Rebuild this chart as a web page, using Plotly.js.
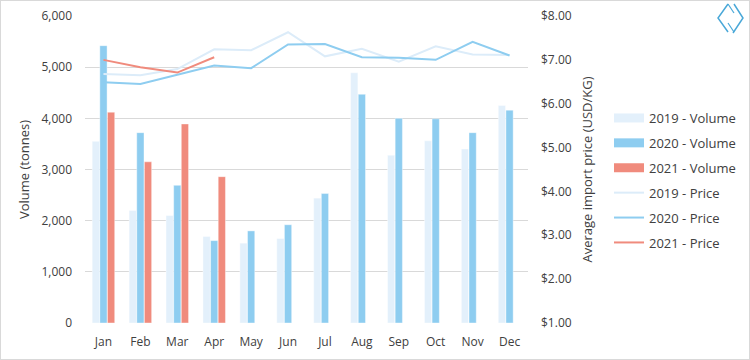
<!DOCTYPE html>
<html>
<head>
<meta charset="utf-8">
<script src="https://cdn.plot.ly/plotly-3.0.1.min.js"></script>
<style>
  html, body { margin: 0; padding: 0; background: #fff; }
  #chart { width: 748px; height: 358px; border: 1px solid #d9d9d9; }
</style>
</head>
<body>
<div id="chart"></div>
<script>
const months = ['Jan','Feb','Mar','Apr','May','Jun','Jul','Aug','Sep','Oct','Nov','Dec'];

const volume2019 = [3550, 2200, 2100, 1690, 1560, 1650, 2440, 4890, 3280, 3560, 3400, 4250];
const volume2020 = [5420, 3720, 2690, 1610, 1800, 1920, 2530, 4470, 4000, 3990, 3720, 4160];
const volume2021 = [4120, 3150, 3890, 2860, null, null, null, null, null, null, null, null];

const price2019 = [6.68, 6.65, 6.79, 7.24, 7.22, 7.63, 7.08, 7.25, 6.96, 7.31, 7.12, 7.11];
const price2020 = [6.49, 6.45, 6.66, 6.87, 6.81, 7.35, 7.36, 7.06, 7.05, 7.00, 7.41, 7.10];
const price2021 = [7.00, 6.83, 6.71, 7.06, null, null, null, null, null, null, null, null];

const c2019bar = '#e3f0fb';
const c2020 = '#8ecdf0';
const c2021 = '#f08b7d';
const c2019line = '#dcecf9';

const txt = '#404040';
const fontFam = '"Open Sans", "Liberation Sans", sans-serif';

function barTrace(name, y, color) {
  return {
    type: 'bar', name: name, x: months, y: y, yaxis: 'y',
    marker: { color: color, line: { color: 'rgba(255,255,255,0.5)', width: 0.8 } },
    showlegend: false, hoverinfo: 'skip'
  };
}
function lineTrace(name, y, color, w) {
  return {
    type: 'scatter', mode: 'lines', name: name, x: months, y: y, yaxis: 'y2',
    line: { color: color, width: w }, showlegend: false, connectgaps: false
  };
}
function legendTrace(name, color, w, grp) {
  return {
    type: 'scatter', mode: 'lines', name: name, x: [months[0]], y: [null], yaxis: 'y2',
    line: { color: color, width: w }, showlegend: true, legendgroup: grp, hoverinfo: 'skip'
  };
}

const data = [
  barTrace('2019 - Volume', volume2019, c2019bar),
  barTrace('2020 - Volume', volume2020, c2020),
  barTrace('2021 - Volume', volume2021, c2021),
  lineTrace('2019 - Price', price2019, c2019line, 2),
  lineTrace('2020 - Price', price2020, c2020, 2),
  lineTrace('2021 - Price', price2021, c2021, 2),
  legendTrace('2019 - Volume', c2019bar, 9, 'a'),
  legendTrace('2020 - Volume', c2020, 9, 'b'),
  legendTrace('2021 - Volume', c2021, 9, 'c'),
  legendTrace('2019 - Price', c2019line, 2, 'd'),
  legendTrace('2020 - Price', c2020, 2, 'e'),
  legendTrace('2021 - Price', c2021, 2, 'f')
];

const W = 748, H = 358;
const M = { l: 84, r: 221, t: 15, b: 36 };
const PW = W - M.l - M.r, PH = H - M.t - M.b;
function px(x) { return (x - 1 - M.l) / PW; }
function py(y) { return 1 - (y - 1 - M.t) / PH; }
function logoPath(pts) {
  return pts.map((p, i) => (i ? 'L ' : 'M ') + px(p[0]).toFixed(4) + ',' + py(p[1]).toFixed(4)).join(' ');
}

const layout = {
  width: W, height: H,
  margin: M,
  paper_bgcolor: '#ffffff', plot_bgcolor: '#ffffff',
  font: { family: fontFam, size: 12, color: txt },
  barmode: 'group', bargap: 0.38, bargroupgap: 0.05,
  showlegend: true,
  legend: {
    xref: 'container', yref: 'container',
    x: (609 - 1) / W, xanchor: 'left', y: 1 - (103 - 1) / H, yanchor: 'top',
    font: { family: fontFam, size: 13, color: txt },
    traceorder: 'grouped', tracegroupgap: 5, itemwidth: 30,
    bgcolor: 'rgba(0,0,0,0)'
  },
  xaxis: {
    type: 'category', showgrid: false, zeroline: false, showline: false,
    ticks: '', ticklabelstandoff: 10, tickfont: { family: fontFam, size: 12, color: txt }
  },
  yaxis: {
    range: [0, 6000], dtick: 1000, tickformat: ',d',
    showgrid: true, gridcolor: '#d9d9d9', gridwidth: 1, zeroline: false, showline: false,
    ticks: '', ticklabelstandoff: 12, tickfont: { family: fontFam, size: 12, color: txt },
    title: { text: 'Volume (tonnes)', font: { family: fontFam, size: 13, color: txt }, standoff: 8 }
  },
  yaxis2: {
    overlaying: 'y', side: 'right', range: [1, 8], dtick: 1,
    tickprefix: '$', tickformat: '.2f',
    showgrid: false, zeroline: false, showline: false, ticks: '', ticklabelstandoff: 12,
    tickfont: { family: fontFam, size: 12, color: txt },
    title: { text: 'Average import price (USD/KG)', font: { family: fontFam, size: 13, color: txt }, standoff: 12 }
  },
  shapes: [
    { type: 'path', xref: 'paper', yref: 'paper',
      path: logoPath([[728, 4], [718, 18], [728, 32]]),
      line: { color: '#4aa8d8', width: 1.5 } },
    { type: 'path', xref: 'paper', yref: 'paper',
      path: logoPath([[734, 4], [743, 18], [733, 33]]),
      line: { color: '#4aa8d8', width: 1.5 } },
    { type: 'path', xref: 'paper', yref: 'paper',
      path: logoPath([[728, 4], [734, 13]]),
      line: { color: '#4aa8d8', width: 1.2 } },
    { type: 'path', xref: 'paper', yref: 'paper',
      path: logoPath([[728, 23], [734, 32]]),
      line: { color: '#4aa8d8', width: 1.2 } }
  ]
};

Plotly.newPlot('chart', data, layout, { displayModeBar: false, staticPlot: true });
</script>
</body>
</html>
